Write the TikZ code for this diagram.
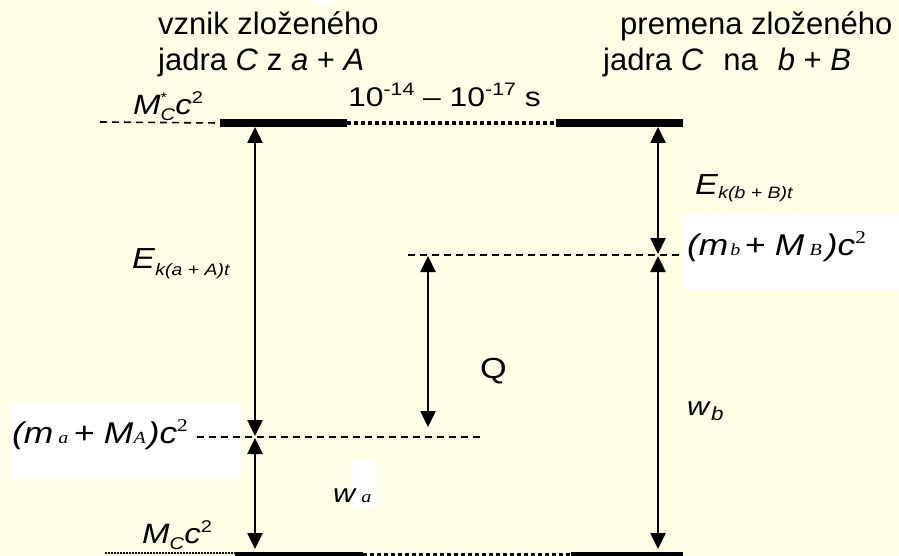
\documentclass[tikz,border=0pt]{standalone}
\usepackage{fontspec}
\setmainfont{Liberation Sans}
\newfontfamily\wsf{Liberation Sans}[FakeStretch=1.18]
\newfontfamily\wtnr{Liberation Serif}[FakeStretch=1.18]
\usetikzlibrary{arrows.meta}
\definecolor{bg}{RGB}{255,255,230}
\newcommand{\fs}[1]{\fontsize{#1}{#1}\selectfont}
\begin{document}
\begin{tikzpicture}[x=1pt,y=-1pt,
  lbl/.style={inner sep=0pt, anchor=base west},
  head/.style={lbl, font=\fs{31}},
  dbl/.style={line width=2.5pt, {Triangle[width=15pt,length=16pt]}-{Triangle[width=15pt,length=16pt]}},
  lvl/.style={line width=8pt},
  dotl/.style={line width=4.5pt, dash pattern=on 4pt off 3pt},
  dashl/.style={line width=1.6pt, dash pattern=on 7pt off 5pt},
  thindot/.style={line width=1.2pt, dash pattern=on 1.5pt off 1.5pt}
]
\fill[bg] (0,0) rectangle (899,556);
\useasboundingbox (0,0) rectangle (899,556);
\clip (0,0) rectangle (899,556);

% white patches
\fill[white] (310,0) rectangle (333,4);
\fill[white] (683,214) rectangle (899,290);
\fill[white] (10,403) rectangle (241,479);
\fill[white] (353,460) rectangle (377,508);

% coordinates
\coordinate (tL1) at (220,123); \coordinate (tL2) at (347,123);
\coordinate (tR1) at (556,123); \coordinate (tR2) at (683,123);
\coordinate (tD) at (100,122);
\coordinate (bL1) at (235,556); \coordinate (bL2) at (363,556);
\coordinate (bR1) at (571,556); \coordinate (bR2) at (683,556);
\coordinate (bM1) at (363,555); \coordinate (bM2) at (571,555);
\coordinate (bD) at (105,553); \coordinate (bD2) at (235,553);
\coordinate (lvB1) at (408,255); \coordinate (lvB2) at (683,255);
\coordinate (lvA1) at (197,437); \coordinate (lvA2) at (482,437);

% levels
\draw[dashl] (tD) -- (tL1);
\draw[lvl] (tL1) -- (tL2);
\draw[dotl] (tL2) -- (tR1);
\draw[lvl] (tR1) -- (tR2);
\draw[thindot] (bD) -- (bD2);
\draw[lvl] (bL1) -- (bL2);
\draw[dotl] (bM1) -- (bM2);
\draw[lvl] (bR1) -- (bR2);
\draw[dashl] (lvB1) -- (lvB2);
\draw[dashl] (lvA1) -- (lvA2);

% arrows
\coordinate (aL0) at (255,127); \coordinate (aL1) at (255,436);
\coordinate (aL2) at (255,438); \coordinate (aL3) at (255,549);
\coordinate (aR0) at (658,127); \coordinate (aR1) at (658,254);
\coordinate (aR2) at (658,256); \coordinate (aR3) at (658,549);
\coordinate (aQ0) at (428,256); \coordinate (aQ1) at (428,427);
\draw[dbl] (aL0) -- (aL1);
\draw[dbl] (aL2) -- (aL3);
\draw[dbl] (aR0) -- (aR1);
\draw[dbl] (aR2) -- (aR3);
\draw[dbl] (aQ0) -- (aQ1);

% texts
\node[head] (h1) at (158,35) {vznik zloženého};
\node[head] (h2) at (158,71) {jadra \textit{C} z \textit{a} + \textit{A}};
\node[head] (h3) at (620,35) {premena zloženého};
\node[head] (h4) at (603,71) {jadra \textit{C}\hspace{20pt}na\hspace{20pt}\textit{b} + \textit{B}};

\node[lbl, font=\wsf\fs{27}] (time) at (348,107) {10\raisebox{11pt}{\fs{18}-14} – 10\raisebox{11pt}{\fs{18}-17} s};

\node[lbl, font=\wsf\fs{28}] (Mstar) at (133,115) {\textit{M}\rlap{\raisebox{12pt}{\fs{14}*}}\raisebox{-6pt}{\fs{17}\textit{C}}\textit{c}\raisebox{11pt}{\fs{17}2}};
\node[lbl, font=\wsf\fs{28}] (Mc) at (142,543) {\textit{M}\raisebox{-6pt}{\fs{17}\textit{C}}\textit{c}\raisebox{11pt}{\fs{17}2}};

\node[lbl, font=\wsf\fs{29}] (Ea) at (132,268) {\textit{E}\raisebox{-7pt}{\fs{16.5}\textit{k(a + A)t}}};
\node[lbl, font=\wsf\fs{29}] (Eb) at (695,195) {\textit{E}\raisebox{-4pt}{\fs{16.5}\textit{k(b + B)t}}};

\node[lbl, font=\wsf\fs{30}] (mb) at (687,255) {\textit{(m}\hspace{2pt}{\wtnr\itshape\fs{17}b}\hspace{4pt}\textit{+ M}\,{\wtnr\itshape\fs{17}B}\hspace{4pt}\textit{)c}\raisebox{12pt}{\wtnr\fs{18}2}};
\node[lbl, font=\wsf\fs{30}] (ma) at (12,443) {\textit{(m}\,{\wtnr\itshape\fs{17}a}\,\textit{+ M}{\wtnr\itshape\fs{17}A}\hspace{2pt}\textit{)c}\raisebox{12pt}{\wtnr\fs{18}2}};

\node[lbl, font=\wsf\fs{29}] (Q) at (480,378) {Q};
\node[lbl, font=\wsf\fs{26}] (wa) at (333,502) {\textit{w}\,{\wtnr\itshape\fs{17}a}};
\node[lbl, font=\wsf\fs{26}] (wb) at (687,415) {\textit{w}\raisebox{-5pt}{\fs{19}\textit{b}}};
\end{tikzpicture}
\end{document}
